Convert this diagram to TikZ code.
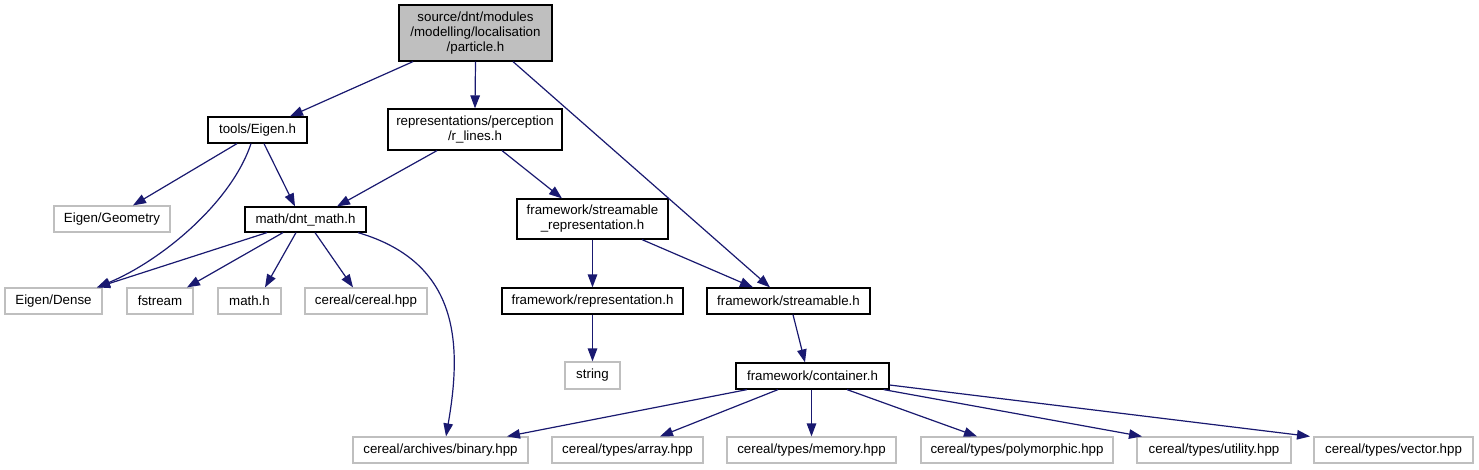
\documentclass[tikz,border=0pt]{standalone}
\usepackage{fontspec}
\setmainfont{Liberation Sans}
\usetikzlibrary{arrows.meta}
\definecolor{edgeblue}{HTML}{191970}
\definecolor{lightborder}{HTML}{BFBFBF}
\definecolor{mainfill}{HTML}{BFBFBF}
\begin{document}
\begin{tikzpicture}[x=1pt,y=-1pt,
  box/.style={draw=black, line width=1.2pt, fill=white, inner sep=0pt, align=center,
    font=\fontsize{13.3}{15}\selectfont, text=black},
  extbox/.style={box, draw=lightborder},
  edge/.style={draw=edgeblue, line width=1.2pt, -{Triangle[length=13pt,width=9.5pt]}}]
\useasboundingbox[fill=white] (0,0) rectangle (1479,469);

% nodes
\node[box, fill=mainfill, minimum width=153pt, minimum height=56pt] (particle) at (475.5,33) {source/dnt/modules\\/modelling/localisation\\/particle.h};
\node[box, minimum width=99pt, minimum height=26pt] (eigen) at (257.5,130) {tools/Eigen.h};
\node[box, minimum width=174pt, minimum height=41pt] (rlines) at (475,129.5) {representations/perception\\/r\_lines.h};
\node[box, minimum width=121pt, minimum height=25pt] (dntmath) at (305.5,219.5) {math/dnt\_math.h};
\node[extbox, minimum width=116pt, minimum height=26pt] (geometry) at (112,219) {Eigen/Geometry};
\node[box, minimum width=151pt, minimum height=40pt] (streprep) at (592.5,219) {framework/streamable\\\_representation.h};
\node[extbox, minimum width=97pt, minimum height=26pt] (dense) at (53.5,301) {Eigen/Dense};
\node[extbox, minimum width=66pt, minimum height=26pt] (fstream) at (160,301) {fstream};
\node[extbox, minimum width=63pt, minimum height=26pt] (mathh) at (249.5,301) {math.h};
\node[extbox, minimum width=122pt, minimum height=26pt] (cereal) at (366,301) {cereal/cereal.hpp};
\node[box, minimum width=181pt, minimum height=26pt] (rep) at (592.5,301) {framework/representation.h};
\node[box, minimum width=163pt, minimum height=26pt] (streamable) at (788.5,301) {framework/streamable.h};
\node[extbox, minimum width=55pt, minimum height=27pt] (string) at (592.5,375.5) {string};
\node[box, minimum width=153pt, minimum height=26pt] (container) at (812.5,376) {framework/container.h};
\node[extbox, minimum width=175pt, minimum height=26pt] (binary) at (440.5,450) {cereal/archives/binary.hpp};
\node[extbox, minimum width=151pt, minimum height=26pt] (array) at (627.5,450) {cereal/types/array.hpp};
\node[extbox, minimum width=169pt, minimum height=26pt] (memory) at (811.5,450) {cereal/types/memory.hpp};
\node[extbox, minimum width=192pt, minimum height=26pt] (polymorphic) at (1017,450) {cereal/types/polymorphic.hpp};
\node[extbox, minimum width=154pt, minimum height=26pt] (utility) at (1214,450) {cereal/types/utility.hpp};
\node[extbox, minimum width=159pt, minimum height=26pt] (vector) at (1393.5,450) {cereal/types/vector.hpp};

% edges
\draw[edge] ([xshift=-62.5pt]particle.south) -- ([xshift=32.5pt]eigen.north);
\draw[edge] (particle.south) -- (rlines.north);
\draw[edge] ([xshift=37.5pt]particle.south) -- ([xshift=-18.5pt]streamable.north);
\draw[edge] ([xshift=-20.5pt]eigen.south) -- ([xshift=21pt]geometry.north);
\draw[edge] ([xshift=-6.5pt]eigen.south) .. controls +(-20,60) and +(63,-26) .. ([xshift=43.5pt]dense.north);
\draw[edge] ([xshift=6.5pt]eigen.south) -- ([xshift=-10.5pt]dntmath.north);
\draw[edge] ([xshift=-38pt]rlines.south) -- ([xshift=31.5pt]dntmath.north);
\draw[edge] ([xshift=27pt]rlines.south) -- ([xshift=-30.5pt]streprep.north);
\draw[edge] (streprep.south) -- (rep.north);
\draw[edge] ([xshift=49.5pt]streprep.south) -- ([xshift=-35.5pt]streamable.north);
\draw[edge] (rep.south) -- (string.north);
\draw[edge] ([xshift=4.5pt]streamable.south) -- ([xshift=-7.5pt]container.north);
\draw[edge] ([xshift=-38.5pt]dntmath.south) -- ([xshift=43.5pt]dense.north);
\draw[edge] ([xshift=-22.5pt]dntmath.south) -- ([xshift=27pt]fstream.north);
\draw[edge] ([xshift=-9.5pt]dntmath.south) -- ([xshift=15.5pt]mathh.north);
\draw[edge] ([xshift=9.5pt]dntmath.south) -- ([xshift=-13pt]cereal.north);
\draw[edge] ([xshift=52.5pt]dntmath.south) .. controls +(102,30) and +(16,-92) .. ([xshift=5.5pt]binary.north);
\draw[edge] ([xshift=-65.5pt]container.south) -- ([xshift=66.5pt]binary.north);
\draw[edge] ([xshift=-34.5pt]container.south) -- ([xshift=32.5pt]array.north);
\draw[edge] ([xshift=-1pt]container.south) -- (memory.north);
\draw[edge] ([xshift=34.5pt]container.south) -- ([xshift=-40pt]polymorphic.north);
\draw[edge] ([xshift=-6pt]container.south east) -- ([xshift=-72pt]utility.north);
\draw[edge] ([yshift=-9pt]container.east) -- ([xshift=-83.5pt]vector.north);
\end{tikzpicture}
\end{document}
